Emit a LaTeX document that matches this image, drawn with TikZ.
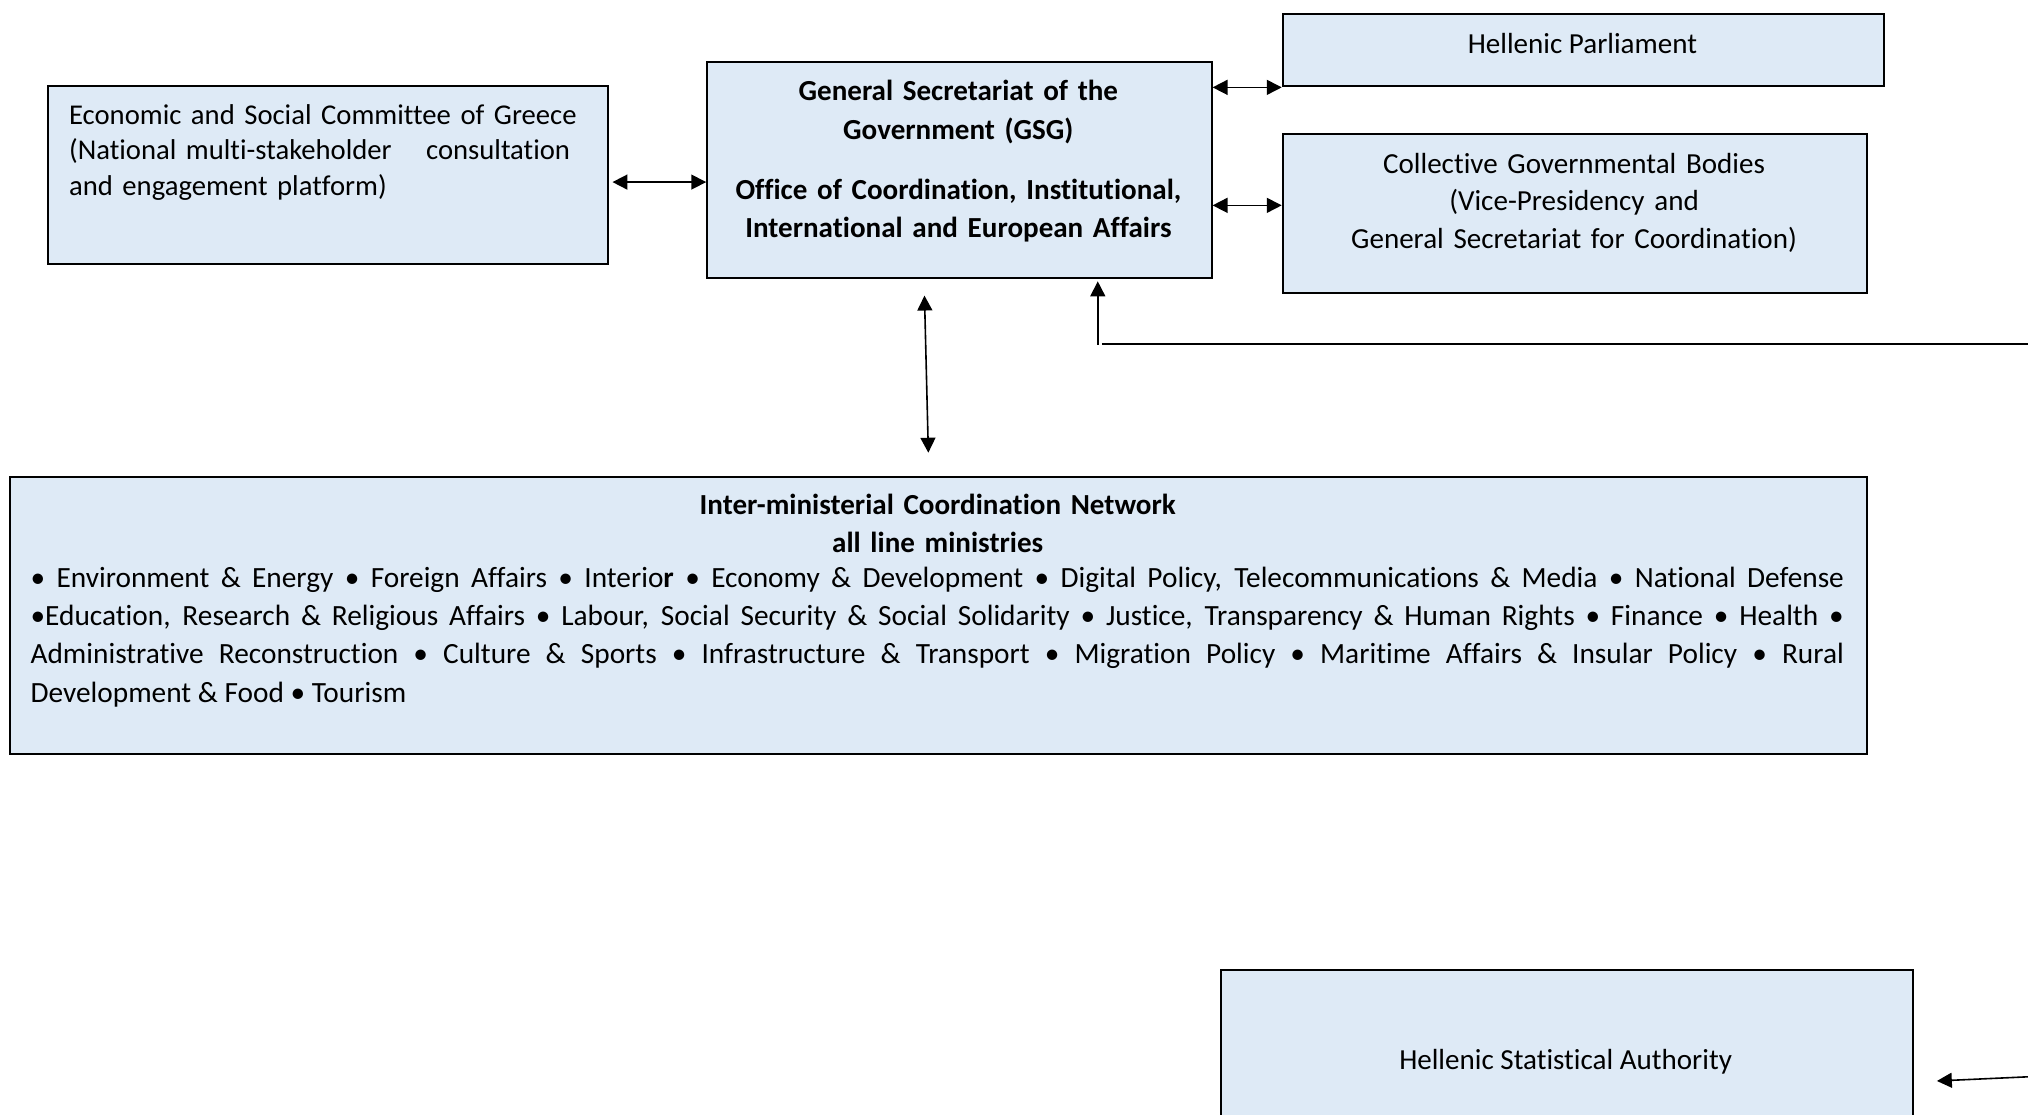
\documentclass[tikz,border=0pt]{standalone}
\usepackage{fontspec}
\setmainfont{Carlito}[Ligatures={NoCommon}]
\usetikzlibrary{arrows.meta}

\definecolor{boxblue}{HTML}{DEEAF6}
\newcommand\unitpx{0.485pt}

\tikzset{
  orgbox/.style 2 args={draw=black, line width=0.75pt, fill=boxblue, anchor=north west,
    inner sep=0pt, minimum width=#1*\unitpx, minimum height=#2*\unitpx},
  txt/.style={anchor=base, inner sep=0pt, font=\fontsize{10.9}{14}\selectfont},
  biarrow/.style={{Triangle[length=5.6pt,width=5.6pt]}-{Triangle[length=5.6pt,width=5.6pt]}, line width=0.6pt},
  onearrow/.style={-{Triangle[length=5.6pt,width=5.6pt]}, line width=0.6pt},
  plainline/.style={line width=0.6pt}
}

\begin{document}
\begin{tikzpicture}[x=\unitpx, y=-\unitpx]
  \clip (0,0) rectangle (1568,862);

  % boxes
  \node[orgbox={433}{137}] (esc) at (36,66) {};
  \node[orgbox={390}{167}] (gsg) at (546,47) {};
  \node[orgbox={465}{56}] (parl) at (991,10) {};
  \node[orgbox={452}{123}] (coll) at (991,103) {};
  \node[orgbox={1436}{214}] (inter) at (7,368) {};
  \node[orgbox={535}{200}] (stat) at (943,749) {};

  % texts
  \node[txt, anchor=base west, text width=200pt, align=left, font=\fontsize{10.75}{13.3}\selectfont] (esctext) at (53,96)
    {Economic and Social Committee of Greece\\(National multi-stakeholder\hspace{1.2em}consultation\\and engagement platform)};
  \node[txt, text width=184pt, align=center, font=\fontsize{10.9}{14.3}\selectfont\bfseries] (gsgtext) at (741,78)
    {General Secretariat of the\\Government (GSG)\\[8.5pt]Office of Coordination, Institutional,\\International and European Affairs};
  \node[txt] (parltext) at (1223.5,41) {Hellenic Parliament};
  \node[txt, text width=213pt, align=center, font=\fontsize{10.9}{14.1}\selectfont] (colltext) at (1217,134)
    {Collective Governmental Bodies\\(Vice-Presidency and\\General Secretariat for Coordination)};
  \node[txt, text width=680pt, align=center, font=\fontsize{10.9}{14}\selectfont\bfseries] (intertitle) at (725,398)
    {Inter-ministerial Coordination Network\\all line ministries};
  \node[txt, text width=680pt, align=justify, font=\fontsize{11}{14.36}\selectfont] (interlist) at (724.7,454)
    {• Environment \& Energy • Foreign Affairs • Interio\textbf{r} • Economy \& Development • Digital Policy, Telecommunications \& Media • National Defense\linebreak
     •Education, Research \& Religious Affairs • Labour, Social Security \& Social Solidarity • Justice, Transparency \& Human Rights • Finance • Health •\linebreak
     Administrative Reconstruction • Culture \& Sports • Infrastructure \& Transport • Migration Policy • Maritime Affairs \& Insular Policy • Rural\linebreak
     Development \& Food • Tourism};
  \node[txt] (stattext) at (1210.5,827) {Hellenic Statistical Authority};

  % connectors
  \coordinate (escport) at ([shift={(3,5.5)}]esc.east);
  \draw[biarrow] (escport) -- (escport -| gsg.west);
  \draw[biarrow] (gsg.east |- parl.south) -- (parl.south west);
  \coordinate (collport) at ([shift={(0,-6.5)}]coll.west);
  \draw[biarrow] (collport -| gsg.east) -- (collport);
  \draw[biarrow] ([shift={(-27,13)}]gsg.south) -- ([shift={(-8,-18)}]inter.north);
  \draw[onearrow] ([shift={(107,51)}]gsg.south) -- ([shift={(107,2)}]gsg.south);
  \coordinate (feedstart) at (852,266);
  \coordinate (feedend) at (1580,266);
  \draw[plainline] (feedstart) -- (feedend);
  \coordinate (statfeed) at (1580,832);
  \draw[onearrow] (statfeed) -- ([shift={(18,-14)}]stat.east);
\end{tikzpicture}
\end{document}
